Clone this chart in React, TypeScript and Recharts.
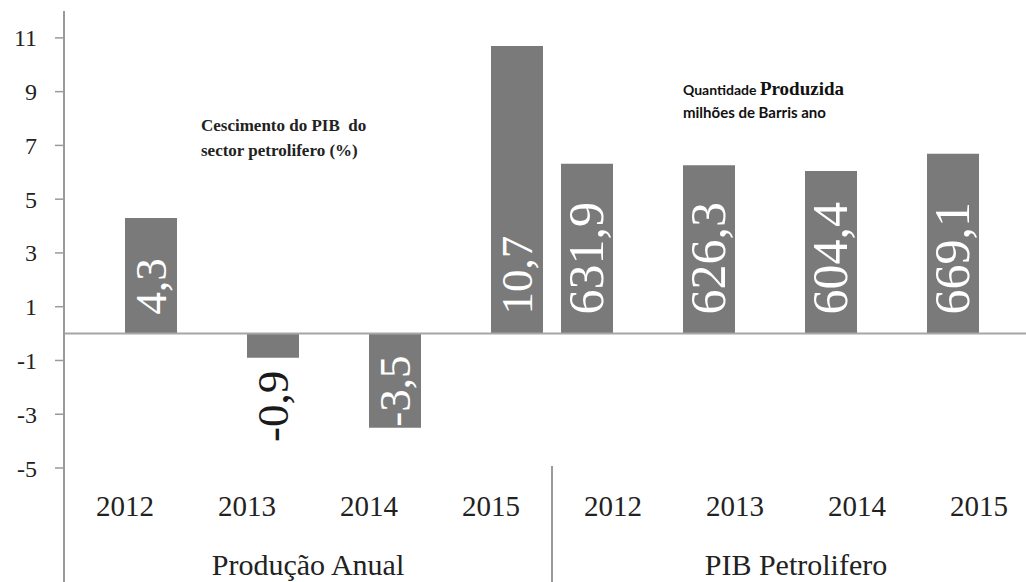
import { BarChart, Bar, XAxis, YAxis, ReferenceLine, LabelList } from "recharts";

const years = ["2012", "2013", "2014", "2015", "2012", "2013", "2014", "2015"];
const groupNames = ["Produção Anual", "PIB Petrolifero"];
const pibGrowth = [4.3, -0.9, -3.5, 10.7];
const production = [631.9, 626.3, 604.4, 669.1];
const pctTicks = [-5, -3, -1, 1, 3, 5, 7, 9, 11];

const CHART_W = 1042;
const CHART_H = 582;
const Y_W = 64;
const MARGIN = { top: 11, right: 2, left: 0, bottom: 0 };
const BAND = (CHART_W - MARGIN.left - MARGIN.right - Y_W) / years.length;
const SERIF = '"Liberation Serif", "Times New Roman", serif';
const SANS = 'Lato, "Liberation Sans", sans-serif';
const GRAY = "#7a7a7a";
const AXIS = "#9a9a9a";

const data = years.map((year, i) => ({
  id: `${i < 4 ? "a" : "b"}${year}`,
  year,
  growth: i < 4 ? pibGrowth[i] : null,
  prod: i >= 4 ? production[i - 4] : null,
}));

function textLen(s: string, fs: number) {
  let n = 0;
  for (const ch of s) n += ch === "," ? 0.25 : ch === "-" ? 0.33 : 0.5;
  return n * fs;
}

function renderValue(p: any, fs: number) {
  const value = p.value;
  if (value == null || value === "") return null;
  const vb = p.viewBox ?? p;
  const x = vb.x ?? p.x;
  const y = vb.y ?? p.y;
  const w = vb.width ?? p.width;
  const h = vb.height ?? p.height;
  const top = Math.min(y, y + h);
  const bottom = Math.max(y, y + h);
  const label = String(value).replace(".", ",");
  const tx = x + w / 2 + fs * 0.33;
  let ty: number;
  let anchor = "start";
  let fill = "#ffffff";
  if (Number(value) >= 0) {
    ty = bottom - 19;
  } else if (bottom - top >= textLen(label, fs) + 12) {
    ty = bottom - 1;
  } else {
    ty = bottom + 13;
    anchor = "end";
    fill = "#1a1a1a";
  }
  return (
    <text
      x={tx}
      y={ty}
      transform={`rotate(-90 ${tx} ${ty})`}
      textAnchor={anchor}
      fontFamily={SERIF}
      fontSize={fs}
      fill={fill}
    >
      {label}
    </text>
  );
}

function YearTick(props: any) {
  const { x, y, index } = props;
  const left = x - BAND / 2;
  return (
    <g>
      {index === 0 && <line x1={left} x2={left} y1={y - 2} y2={CHART_H} stroke={AXIS} strokeWidth={2} />}
      {index === 4 && <line x1={left} x2={left} y1={y - 2} y2={CHART_H} stroke={AXIS} strokeWidth={2} />}
      <text x={x} y={y + 48} textAnchor="middle" fontFamily={SERIF} fontSize={29} fill="#222">
        {years[index]}
      </text>
      {index % 4 === 0 && (
        <text x={x + BAND * 1.5} y={y + 107} textAnchor="middle" fontFamily={SERIF} fontSize={30} fill="#222">
          {groupNames[index / 4]}
        </text>
      )}
    </g>
  );
}

export default function App() {
  return (
    <div
      style={{
        position: "absolute",
        left: 0,
        top: 0,
        width: 1026,
        height: 582,
        overflow: "hidden",
        background: "#fff",
      }}
    >
      <BarChart width={CHART_W} height={CHART_H} data={data} margin={MARGIN} barGap={0}>
        <XAxis
          dataKey="id"
          xAxisId={0}
          interval={0}
          axisLine={false}
          tickLine={false}
          tickSize={0}
          tickMargin={0}
          height={CHART_H - MARGIN.top - 457}
          tick={<YearTick />}
        />
        <YAxis
          yAxisId="pct"
          width={Y_W}
          domain={[-5, 12]}
          ticks={pctTicks}
          tickSize={9}
          tickMargin={18}
          axisLine={{ stroke: AXIS, strokeWidth: 2 }}
          tickLine={{ stroke: AXIS, strokeWidth: 1.5 }}
          tick={{ fontFamily: SERIF, fontSize: 24, fill: "#222" }}
        />
        <YAxis yAxisId="prod" hide domain={[-500, 1200]} />
        <Bar yAxisId="prod" dataKey="prod" fill={GRAY} barSize={52} isAnimationActive={false}>
          <LabelList dataKey="prod" content={(p: any) => renderValue(p, 50)} />
        </Bar>
        <Bar yAxisId="pct" dataKey="growth" fill={GRAY} barSize={52} isAnimationActive={false}>
          <LabelList dataKey="growth" content={(p: any) => renderValue(p, 45)} />
        </Bar>
        <ReferenceLine yAxisId="pct" y={0} stroke="#a6a6a6" strokeWidth={2} />
      </BarChart>

      <div
        style={{
          position: "absolute",
          left: 201,
          top: 113,
          fontFamily: SERIF,
          fontWeight: 700,
          fontSize: 17,
          lineHeight: "25px",
          color: "#222",
          whiteSpace: "pre",
        }}
      >
        {"Cescimento do PIB  do"}
        <br />
        {"sector petrolifero (%)"}
      </div>

      <div
        style={{
          position: "absolute",
          left: 683,
          top: 77,
          fontFamily: SANS,
          fontWeight: 700,
          fontSize: 14,
          lineHeight: "23px",
          color: "#111",
          whiteSpace: "pre",
        }}
      >
        {"Quantidade "}
        <span style={{ fontFamily: SERIF, fontSize: 19 }}>Produzida</span>
        <br />
        <span style={{ fontSize: 15 }}>{"milhões de Barris ano"}</span>
      </div>
    </div>
  );
}
